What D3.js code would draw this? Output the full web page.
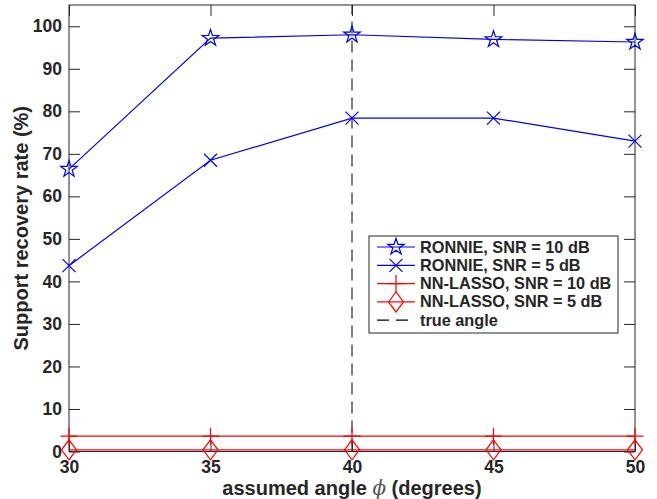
<!DOCTYPE html>
<html>
<head>
<meta charset="utf-8">
<script src="https://cdn.jsdelivr.net/npm/d3@7"></script>
<style>
  body { margin: 0; background: #fff; }
  svg text { font-family: "Liberation Sans", Arial, Helvetica, sans-serif; fill: #262626; }
</style>
</head>
<body>
<div id="chart"></div>
<script>
// angles (degrees)
var angles = [30, 35, 40, 45, 50];
var ronnie10 = [66.4, 97.2, 98.0, 96.9, 96.3];
var ronnie5 = [43.7, 68.5, 78.4, 78.4, 73.0];
var lasso10 = [3.6, 3.6, 3.6, 3.6, 3.6];
var lasso5 = [0.4, 0.4, 0.4, 0.4, 0.4];
var trueAngle = 40;
var xTicks = [30, 35, 40, 45, 50];
var yTicks = [0, 10, 20, 30, 40, 50, 60, 70, 80, 90, 100];
var legendLabels = ["RONNIE, SNR = 10 dB", "RONNIE, SNR = 5 dB", "NN-LASSO, SNR = 10 dB", "NN-LASSO, SNR = 5 dB", "true angle"];

var W = 657, H = 499;
var margin = { left: 69, right: 22, top: 5, bottom: 47.5 };
var width = W - margin.left - margin.right,
    height = H - margin.top - margin.bottom;
var axisColor = "#262626";

var svg = d3.select("#chart").append("svg")
    .attr("width", W)
    .attr("height", H);

var x = d3.scaleLinear().domain([30, 50]).range([0, width]);
var y = d3.scaleLinear().domain([0, 105]).range([height, 0]);

var g = svg.append("g")
    .attr("transform", "translate(" + margin.left + "," + margin.top + ")");

// marker shapes
function star(r) {
    var ri = r * 0.38, pts = [];
    for (var i = 0; i < 10; i++) {
        var a = -Math.PI / 2 + i * Math.PI / 5;
        var rr = i % 2 ? ri : r;
        pts.push([rr * Math.cos(a), rr * Math.sin(a)]);
    }
    return "M" + pts.join("L") + "Z";
}
function cross(r) { return "M" + (-r) + "," + (-r) + "L" + r + "," + r + "M" + (-r) + "," + r + "L" + r + "," + (-r); }
function plus(r) { return "M" + (-r) + ",0L" + r + ",0M0," + (-r) + "L0," + r; }
function diamond(w, h) { return "M0," + (-h) + "L" + w + ",0L0," + h + "L" + (-w) + ",0Z"; }

var series = [
    { values: ronnie10, color: "#0000ff", marker: star(8.7) },
    { values: ronnie5, color: "#0000ff", marker: cross(6.5) },
    { values: lasso10, color: "#ff0000", marker: plus(8.5) },
    { values: lasso5, color: "#ff0000", marker: diamond(7.5, 10) }
];

// dashed true angle line
g.append("line")
    .attr("x1", x(trueAngle)).attr("x2", x(trueAngle))
    .attr("y1", y(0)).attr("y2", y(105))
    .attr("stroke", "#000")
    .attr("stroke-width", 1)
    .attr("stroke-dasharray", "12,7");

// axes box
g.append("rect")
    .attr("width", width).attr("height", height)
    .attr("fill", "none")
    .attr("stroke", axisColor)
    .attr("stroke-width", 1);

var tick = 11;
g.append("g")
    .attr("transform", "translate(0," + height + ")")
    .call(d3.axisBottom(x).tickValues(xTicks).tickSize(-tick).tickPadding(9))
    .call(function (a) { a.select(".domain").remove(); });
g.append("g")
    .call(d3.axisTop(x).tickValues(xTicks).tickSize(-tick).tickFormat(""))
    .call(function (a) { a.select(".domain").remove(); });
g.append("g")
    .call(d3.axisLeft(y).tickValues(yTicks).tickSize(-tick).tickPadding(7))
    .call(function (a) { a.select(".domain").remove(); });
g.append("g")
    .attr("transform", "translate(" + width + ",0)")
    .call(d3.axisRight(y).tickValues(yTicks).tickSize(-tick).tickFormat(""))
    .call(function (a) { a.select(".domain").remove(); });

g.selectAll(".tick line").attr("stroke", axisColor);
g.selectAll(".tick text")
    .attr("fill", axisColor)
    .style("font-size", "17.5px")
    .style("font-weight", "bold");

// series lines and markers
var line = d3.line()
    .x(function (d, i) { return x(angles[i]); })
    .y(function (d) { return y(d); });

series.forEach(function (s) {
    g.append("path")
        .datum(s.values)
        .attr("d", line)
        .attr("fill", "none")
        .attr("stroke", s.color)
        .attr("stroke-width", 1.2);
    g.selectAll(null)
        .data(s.values)
        .enter().append("path")
        .attr("transform", function (d, i) { return "translate(" + x(angles[i]) + "," + y(d) + ")"; })
        .attr("d", s.marker)
        .attr("fill", "none")
        .attr("stroke", s.color)
        .attr("stroke-width", 1.2);
});

// axis labels
svg.append("text")
    .attr("transform", "translate(28," + (margin.top + height / 2) + ") rotate(-90)")
    .attr("text-anchor", "middle")
    .style("font-size", "20px")
    .style("font-weight", "bold")
    .text("Support recovery rate (%)");

var xl = svg.append("text")
    .attr("x", margin.left + width / 2)
    .attr("y", 495)
    .attr("text-anchor", "middle")
    .style("font-size", "20px")
    .style("font-weight", "bold");
xl.append("tspan").text("assumed angle ");
xl.append("tspan")
    .style("font-family", "'DejaVu Serif', 'Liberation Serif', serif")
    .style("font-style", "italic")
    .style("font-weight", "normal")
    .style("fill", "#555")
    .text("\u03D5");
xl.append("tspan").text(" (degrees)");

// legend
var lg = svg.append("g").attr("transform", "translate(369,236)");
lg.append("rect")
    .attr("width", 249).attr("height", 97)
    .attr("fill", "#fff")
    .attr("stroke", axisColor)
    .attr("stroke-width", 1);

var rows = series.map(function (s) { return { color: s.color, marker: s.marker, dash: null }; });
rows.push({ color: "#000", marker: null, dash: "12,7" });

rows.forEach(function (r, i) {
    var cy = 11 + i * 18.3;
    lg.append("line")
        .attr("x1", 8).attr("x2", 46)
        .attr("y1", cy).attr("y2", cy)
        .attr("stroke", r.color)
        .attr("stroke-width", 1.2)
        .attr("stroke-dasharray", r.dash);
    if (r.marker) {
        lg.append("path")
            .attr("transform", "translate(27," + cy + ")")
            .attr("d", r.marker)
            .attr("fill", "none")
            .attr("stroke", r.color)
            .attr("stroke-width", 1.2);
    }
    lg.append("text")
        .attr("x", 51)
        .attr("y", cy + 5.5)
        .style("font-size", "16.3px")
        .style("font-weight", "bold")
        .text(legendLabels[i]);
});
</script>
</body>
</html>
